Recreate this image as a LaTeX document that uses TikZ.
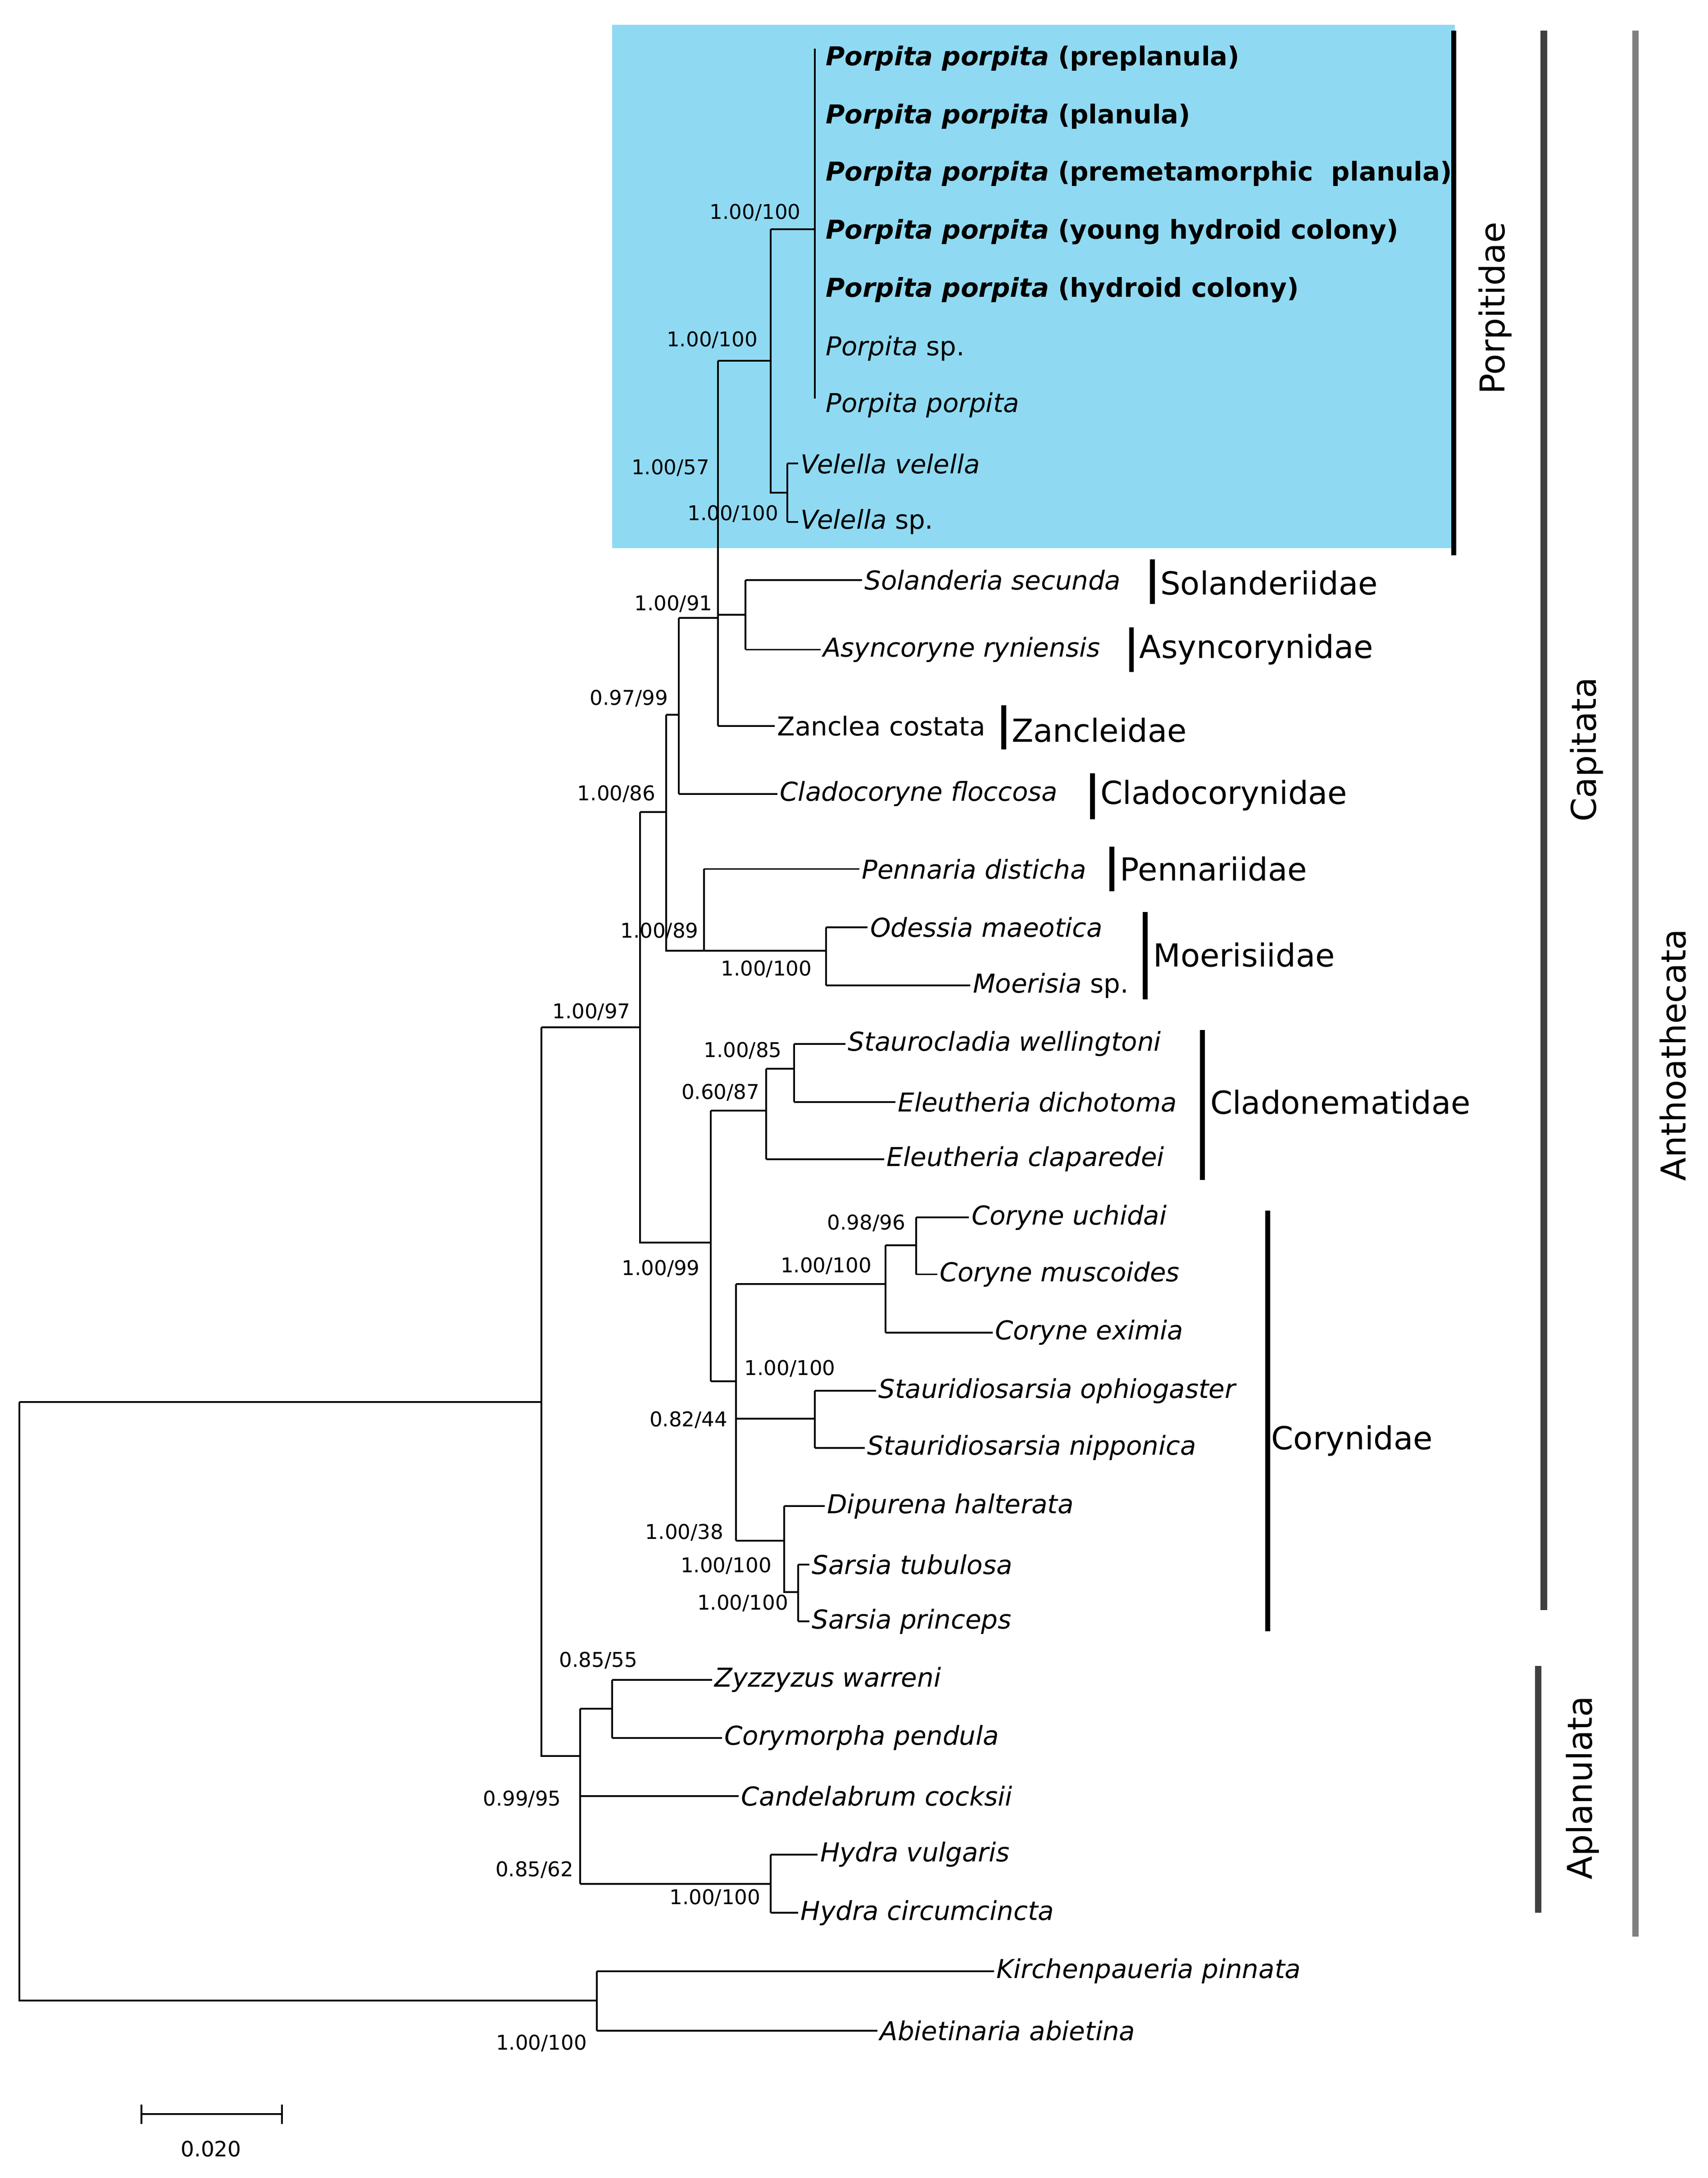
\documentclass[tikz,border=0pt]{standalone}
\usepackage{fontspec}
\setmainfont{DejaVu Sans}
\definecolor{porpblue}{RGB}{143,218,242}
\newcommand\tip[2]{\draw (#1,0 |- #2.west) -- (#2.west);}
\newcommand\vt[3]{\draw (#1,0 |- #2.west) -- (#1,0 |- #3.west);}
\begin{document}
\begin{tikzpicture}[x=0.03cm,y=-0.03cm,line width=1.1pt,
  leaf/.style={anchor=west,inner sep=1pt,font=\fontsize{16}{19}\selectfont\itshape},
  supp/.style={inner sep=0pt,font=\fontsize{12.5}{14}\selectfont},
  fam/.style={anchor=west,inner sep=1pt,font=\fontsize{19.5}{22}\selectfont},
  clade/.style={rotate=90,inner sep=0pt,font=\fontsize{21}{25}\selectfont},
  fbar/.style={line width=3pt}]
\useasboundingbox (0,0) rectangle (1230,1569);
\fill[porpblue] (441,18) rectangle (1048,395);
% leaves
\node[leaf] (l1) at (593,42) {\textbf{Porpita porpita}\upshape\bfseries{} (preplanula)};
\node[leaf] (l2) at (593,84) {\textbf{Porpita porpita}\upshape\bfseries{} (planula)};
\node[leaf] (l3) at (593,125) {\textbf{Porpita porpita}\upshape\bfseries{} (premetamorphic\ \ planula)};
\node[leaf] (l4) at (593,167) {\textbf{Porpita porpita}\upshape\bfseries{} (young hydroid colony)};
\node[leaf] (l5) at (593,209) {\textbf{Porpita porpita}\upshape\bfseries{} (hydroid colony)};
\node[leaf] (l6) at (593,251) {Porpita\upshape{} sp.};
\node[leaf] (l7) at (593,292) {Porpita porpita};
\node[leaf] (l8) at (575,334) {Velella velella};
\node[leaf] (l9) at (575,376) {Velella\upshape{} sp.};
\node[leaf] (l10) at (621,418) {Solanderia secunda};
\node[leaf] (l11) at (591,468) {Asyncoryne ryniensis};
\node[leaf] (l12) at (558,523) {\upshape Zanclea costata};
\node[leaf] (l13) at (560,572) {Cladocoryne floccosa};
\node[leaf] (l14) at (619,626) {Pennaria disticha};
\node[leaf] (l15) at (625,668) {Odessia maeotica};
\node[leaf] (l16) at (699,710) {Moerisia\upshape{} sp.};
\node[leaf] (l17) at (609,752) {Staurocladia wellingtoni};
\node[leaf] (l18) at (645,794) {Eleutheria dichotoma};
\node[leaf] (l19) at (637,835) {Eleutheria claparedei};
\node[leaf] (l20) at (698,877) {Coryne uchidai};
\node[leaf] (l21) at (675,918) {Coryne muscoides};
\node[leaf] (l22) at (715,960) {Coryne eximia};
\node[leaf] (l23) at (631,1002) {Stauridiosarsia ophiogaster};
\node[leaf] (l24) at (623,1043) {Stauridiosarsia nipponica};
\node[leaf] (l25) at (594,1085) {Dipurena halterata};
\node[leaf] (l26) at (583,1127) {Sarsia tubulosa};
\node[leaf] (l27) at (583,1168) {Sarsia princeps};
\node[leaf] (l28) at (513,1210) {Zyzzyzus warreni};
\node[leaf] (l29) at (520,1252) {Corymorpha pendula};
\node[leaf] (l30) at (532,1294) {Candelabrum cocksii};
\node[leaf] (l31) at (589,1336) {Hydra vulgaris};
\node[leaf] (l32) at (575,1378) {Hydra circumcincta};
\node[leaf] (l33) at (716,1420) {Kirchenpaueria pinnata};
\node[leaf] (l34) at (632,1463) {Abietinaria abietina};
% branches
\draw (587,35) -- (587,287);
\draw (555,165) -- (587,165) (555,165) -- (555,355) -- (567,355);
\vt{567}{l8}{l9} \tip{567}{l8} \tip{567}{l9}
\draw (517,260) -- (555,260) (517,260) -- (517,0 |- l12.west); \tip{517}{l12}
\draw (517,443) -- (537,443); \vt{537}{l10}{l11} \tip{537}{l10} \tip{537}{l11}
\draw (489,445) -- (517,445) (489,445) -- (489,0 |- l13.west); \tip{489}{l13}
\draw (480,515) -- (489,515) (480,515) -- (480,685) -- (507,685);
\draw (507,0 |- l14.west) -- (507,685) (507,685) -- (595,685); \tip{507}{l14}
\vt{595}{l15}{l16} \tip{595}{l15} \tip{595}{l16}
\draw (461,585) -- (480,585) (461,585) -- (461,895) -- (512,895);
\draw (512,800) -- (512,995) (512,800) -- (552,800);
\draw (552,770) -- (552,0 |- l19.west) (552,770) -- (572,770); \tip{552}{l19}
\vt{572}{l17}{l18} \tip{572}{l17} \tip{572}{l18}
\draw (512,995) -- (530,995) (530,925) -- (530,1110);
\draw (530,925) -- (638,925) (638,897) -- (638,0 |- l22.west); \tip{638}{l22}
\draw (638,897) -- (660,897); \vt{660}{l20}{l21} \tip{660}{l20} \tip{660}{l21}
\draw (530,1022) -- (587,1022); \vt{587}{l23}{l24} \tip{587}{l23} \tip{587}{l24}
\draw (530,1110) -- (565,1110) (565,0 |- l25.west) -- (565,1147) -- (575,1147); \tip{565}{l25}
\vt{575}{l26}{l27} \tip{575}{l26} \tip{575}{l27}
\draw (390,740) -- (461,740) (390,740) -- (390,1265) -- (418,1265);
\draw (418,1231) -- (418,1357) (418,1231) -- (441,1231);
\vt{441}{l28}{l29} \tip{441}{l28} \tip{441}{l29}
\tip{418}{l30} \draw (418,1357) -- (555,1357);
\vt{555}{l31}{l32} \tip{555}{l31} \tip{555}{l32}
\draw (14,1010) -- (390,1010) (14,1010) -- (14,1441) -- (430,1441);
\vt{430}{l33}{l34} \tip{430}{l33} \tip{430}{l34}
% support values
\foreach \p/\t in {{544,153}/{1.00/100},{513,245}/{1.00/100},{483,337}/{1.00/57},{528,370}/{1.00/100},
  {485,435}/{1.00/91},{453,503}/{0.97/99},{444,572}/{1.00/86},{475,671}/{1.00/89},{552,698}/{1.00/100},
  {426,729}/{1.00/97},{535,757}/{1.00/85},{519,787}/{0.60/87},{624,881}/{0.98/96},{595,912}/{1.00/100},
  {476,914}/{1.00/99},{569,986}/{1.00/100},{496,1023}/{0.82/44},{493,1104}/{1.00/38},{523,1128}/{1.00/100},
  {535,1155}/{1.00/100},{431,1196}/{0.85/55},{376,1296}/{0.99/95},{385,1347}/{0.85/62},{515,1367}/{1.00/100},
  {390,1472}/{1.00/100}}
  \node[supp] at (\p) {\t};
% families
\draw[fbar] (1047,22) -- (1047,400);
\node[clade] (porp) at (1077,222) {Porpitidae};
\draw[fbar] (830,403) -- (830,435);  \node[fam] (solf) at (834,420) {Solanderiidae};
\draw[fbar] (815,452) -- (815,484);  \node[fam] (asyf) at (819,468) {Asyncorynidae};
\draw[fbar] (723,508) -- (723,540);  \node[fam] (zanf) at (727,526) {Zancleidae};
\draw[fbar] (787,557) -- (787,590);  \node[fam] (claf) at (791,573) {Cladocorynidae};
\draw[fbar] (801,610) -- (801,642);  \node[fam] (penf) at (805,626) {Pennariidae};
\draw[fbar] (825,657) -- (825,720);  \node[fam] (moef) at (829,688) {Moerisiidae};
\draw[fbar] (866,742) -- (866,850);  \node[fam] (cldf) at (870,794) {Cladonematidae};
\draw[fbar] (913,872) -- (913,1175); \node[fam] (corf) at (914,1038) {Corynidae};
% higher clades
\draw[line width=4pt,black!75] (1112,22) -- (1112,1160);
\node[clade] (capi) at (1143,540) {Capitata};
\draw[line width=4pt,black!75] (1108,1200) -- (1108,1378);
\node[clade] (apla) at (1140,1288) {Aplanulata};
\draw[line width=4pt,black!50] (1178,22) -- (1178,1395);
\node[clade] (anth) at (1205,760) {Anthoathecata};
% scale
\draw (102,1523) -- (203,1523) (102,1516) -- (102,1530) (203,1516) -- (203,1530);
\node[supp,font=\fontsize{13}{15}\selectfont] (scl) at (152,1548) {0.020};
\end{tikzpicture}
\end{document}
